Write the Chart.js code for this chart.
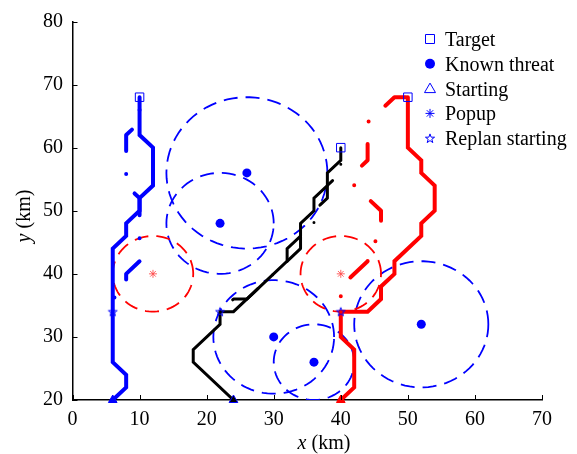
<!DOCTYPE html>
<html>
<head>
<meta charset="utf-8">
<script src="https://cdn.jsdelivr.net/npm/chart.js@4.4.1/dist/chart.umd.min.js"></script>
<style>
  html, body { margin: 0; padding: 0; background: #fff; }
  #wrap { width: 577px; height: 454px; }
</style>
</head>
<body>
<div id="wrap"><canvas id="paths" width="577" height="454"></canvas></div>
<script>
// axis ticks
const xTicks = [0, 10, 20, 30, 40, 50, 60, 70];
const yTicks = [20, 30, 40, 50, 60, 70, 80];

// paths (km): new = flown after replanning, old = original plan after the popup
const blueNewX = [6, 8, 8, 6, 6, 8, 8, 10, 10, 12, 12, 10, 10];
const blueNewY = [20, 22, 24, 26, 44, 46, 48, 50, 52, 54, 60, 62, 68];
const blueOldX = [6, 6, 8, 8, 10, 10, 8, 8, 10, 10];
const blueOldY = [34, 36, 38, 40, 42, 52, 54, 62, 64, 68];

const blackNewX = [24, 18, 18, 22, 22, 24, 32, 32, 34, 34, 36, 36, 38, 38, 40, 40];
const blackNewY = [20, 26, 28, 32, 34, 34, 42, 44, 46, 48, 50, 52, 54, 56, 58, 60];
const blackOldX = [22, 24, 26, 32, 34, 34, 36, 36, 38, 38, 40, 40];
const blackOldY = [34, 36, 36, 42, 44, 46, 48, 50, 52, 54, 56, 60];

const redNewX = [40, 42, 42, 40, 40, 44, 46, 46, 48, 48, 52, 52, 54, 54, 52, 52, 50, 50];
const redNewY = [20, 22, 28, 30, 34, 34, 36, 38, 40, 42, 46, 48, 50, 54, 56, 58, 60, 68];
const redOldX = [40, 40, 44, 44, 46, 46, 44, 42, 42, 44, 44, 46, 48, 50];
const redOldY = [34, 38, 42, 44, 46, 50, 52, 54, 56, 58, 64, 66, 68, 68];

// threats: centre and radius (km)
const knownX = [26, 22, 30, 36, 52];
const knownY = [56, 48, 30, 26, 32];
const knownR = [12, 8, 9, 6, 10];
const popupX = [12, 40];
const popupY = [40, 40];
const popupR = [6, 6];

// markers
const targetX = [10, 40, 50];
const targetY = [68, 60, 68];
const startX = [6, 24, 40];
const startY = [20, 20, 20];
const replanX = [6, 22, 40];
const replanY = [34, 34, 34];

const legendLabels = ["Target", "Known threat", "Starting", "Popup", "Replan starting"];

const BLUE = "#0000ff";
const RED = "#ff0000";
const SERIF = '"Liberation Serif", "Times New Roman", serif';

function pts(xs, ys) {
  return xs.map((x, i) => ({ x: x, y: ys[i] }));
}

// outline of a threat circle from its centre and radius
function ring(cx, cy, r) {
  const out = [];
  for (let k = 0; k <= 90; k++) {
    const a = (k / 90) * Math.PI * 2;
    out.push({ x: cx + r * Math.cos(a), y: cy + r * Math.sin(a) });
  }
  return out;
}

function pentagram(ctx, cx, cy, R) {
  const r = R * 0.4;
  ctx.beginPath();
  for (let k = 0; k < 10; k++) {
    const rad = k % 2 === 0 ? R : r;
    const a = -Math.PI / 2 + (k * Math.PI) / 5;
    const px = cx + rad * Math.cos(a);
    const py = cy + rad * Math.sin(a);
    if (k === 0) ctx.moveTo(px, py);
    else ctx.lineTo(px, py);
  }
  ctx.closePath();
}

const starImg = document.createElement("canvas");
starImg.width = 12;
starImg.height = 12;
(function () {
  const c = starImg.getContext("2d");
  c.strokeStyle = BLUE;
  c.lineWidth = 1;
  pentagram(c, 6, 6.4, 4.6);
  c.stroke();
})();

function pathSet(xs, ys, color, width, order, dash, dashOffset) {
  return {
    data: pts(xs, ys),
    showLine: true,
    borderColor: color,
    borderWidth: width,
    borderDash: dash || [],
    borderDashOffset: dashOffset || 0,
    borderCapStyle: "round",
    borderJoinStyle: dash ? "round" : "miter",
    pointRadius: 0,
    pointHoverRadius: 0,
    tension: 0,
    order: order,
  };
}

const datasets = [];

knownX.forEach((cx, i) => {
  datasets.push({
    data: ring(cx, knownY[i], knownR[i]),
    showLine: true,
    borderColor: BLUE,
    borderWidth: 1.8,
    borderDash: [14, 8],
    pointRadius: 0,
    tension: 0,
    order: 20,
  });
});
popupX.forEach((cx, i) => {
  datasets.push({
    data: ring(cx, popupY[i], popupR[i]),
    showLine: true,
    borderColor: RED,
    borderWidth: 1.8,
    borderDash: [14, 8],
    pointRadius: 0,
    tension: 0,
    order: 19,
  });
});

datasets.push(pathSet(blueOldX, blueOldY, BLUE, 4, 12, [24, 23, 0, 23], 32));
datasets.push(pathSet(redOldX, redOldY, RED, 4, 12, [24, 23, 0, 23], 31.6));
datasets.push(pathSet(blackOldX, blackOldY, "#000", 3, 12, [30, 20, 0, 20], 52.7));
datasets.push(pathSet(blueNewX, blueNewY, BLUE, 4, 10));
datasets.push(pathSet(redNewX, redNewY, RED, 4, 10));
datasets.push(pathSet(blackNewX, blackNewY, "#000", 3, 10));

datasets.push({
  data: pts(knownX, knownY),
  pointStyle: "circle",
  pointRadius: 4.5,
  pointBackgroundColor: BLUE,
  pointBorderColor: BLUE,
  pointBorderWidth: 0,
  order: 5,
});
datasets.push({
  data: pts(popupX, popupY),
  pointStyle: "star",
  pointRadius: 4,
  pointBackgroundColor: "rgba(0,0,0,0)",
  pointBorderColor: "rgba(255,70,70,0.85)",
  pointBorderWidth: 1,
  order: 5,
});
datasets.push({
  data: pts(targetX, targetY),
  pointStyle: "rect",
  pointRadius: 6,
  pointBackgroundColor: "rgba(0,0,0,0)",
  pointBorderColor: BLUE,
  pointBorderWidth: 1,
  order: 4,
});
datasets.push({
  data: pts(startX, startY),
  pointStyle: "triangle",
  pointRadius: 5,
  pointBackgroundColor: [BLUE, "#000", RED],
  pointBorderColor: [BLUE, BLUE, RED],
  pointBorderWidth: 1,
  clip: false,
  order: 4,
});
datasets.push({
  data: pts(replanX, replanY),
  pointStyle: starImg,
  pointRadius: 5,
  order: 3,
});

const decorations = {
  id: "decorations",
  afterDraw(chart) {
    const { ctx, chartArea: a, scales } = chart;
    ctx.save();

    // inward ticks
    ctx.strokeStyle = "#000";
    ctx.lineWidth = 1;
    ctx.beginPath();
    xTicks.forEach((v) => {
      const px = Math.round(scales.x.getPixelForValue(v)) + 0.5;
      ctx.moveTo(px, a.bottom);
      ctx.lineTo(px, a.bottom - 5);
    });
    yTicks.forEach((v) => {
      const py = Math.round(scales.y.getPixelForValue(v)) + 0.5;
      ctx.moveTo(a.left, py);
      ctx.lineTo(a.left + 5, py);
    });
    ctx.stroke();

    // axis titles with italic variable
    ctx.fillStyle = "#000";
    ctx.textBaseline = "alphabetic";
    ctx.textAlign = "left";
    const italic = "italic 20px " + SERIF;
    const plain = "20px " + SERIF;
    function title(v, cx, cy, rot) {
      ctx.save();
      ctx.translate(cx, cy);
      ctx.rotate(rot);
      ctx.font = italic;
      const w1 = ctx.measureText(v).width;
      ctx.font = plain;
      const w2 = ctx.measureText(" (km)").width;
      const x0 = -(w1 + w2) / 2;
      ctx.font = italic;
      ctx.fillText(v, x0, 0);
      ctx.font = plain;
      ctx.fillText(" (km)", x0 + w1, 0);
      ctx.restore();
    }
    title("x", 324, 449, 0);
    title("y", 30, 216, -Math.PI / 2);

    // legend
    const lx = 430;
    legendLabels.forEach((label, i) => {
      const ly = 39 + i * 24.8;
      ctx.strokeStyle = BLUE;
      ctx.fillStyle = BLUE;
      ctx.lineWidth = 1;
      ctx.beginPath();
      if (i === 0) {
        ctx.rect(lx - 4.5, ly - 4.5, 9, 9);
        ctx.stroke();
      } else if (i === 1) {
        ctx.arc(lx, ly, 5, 0, Math.PI * 2);
        ctx.fill();
      } else if (i === 2) {
        ctx.moveTo(lx, ly - 5.5);
        ctx.lineTo(lx + 5.5, ly + 4);
        ctx.lineTo(lx - 5.5, ly + 4);
        ctx.closePath();
        ctx.stroke();
      } else if (i === 3) {
        for (let k = 0; k < 4; k++) {
          const ang = (k * Math.PI) / 4;
          ctx.moveTo(lx - 4.5 * Math.cos(ang), ly - 4.5 * Math.sin(ang));
          ctx.lineTo(lx + 4.5 * Math.cos(ang), ly + 4.5 * Math.sin(ang));
        }
        ctx.stroke();
      } else {
        pentagram(ctx, lx, ly + 0.5, 4.8);
        ctx.stroke();
      }
      ctx.fillStyle = "#000";
      ctx.font = plain;
      ctx.fillText(label, 445, ly + 7);
    });

    ctx.restore();
  },
};

Chart.defaults.font.family = SERIF;
Chart.defaults.font.size = 20;
Chart.defaults.color = "#000";

new Chart(document.getElementById("paths"), {
  type: "scatter",
  data: { datasets: datasets },
  options: {
    responsive: false,
    animation: false,
    devicePixelRatio: 1,
    events: [],
    layout: { padding: { left: 0, right: 35, top: 16, bottom: 0 } },
    plugins: { legend: { display: false }, tooltip: { enabled: false } },
    scales: {
      x: {
        type: "linear",
        min: 0,
        max: 70,
        afterBuildTicks: (s) => { s.ticks = xTicks.map((v) => ({ value: v })); },
        afterFit: (s) => { s.height = 54; },
        ticks: { padding: 8 },
        grid: { drawOnChartArea: false, drawTicks: false },
        border: { color: "#000", width: 1.5 },
      },
      y: {
        type: "linear",
        min: 20,
        max: 80,
        afterBuildTicks: (s) => { s.ticks = yTicks.map((v) => ({ value: v })); },
        afterFit: (s) => { s.width = 72.5; },
        ticks: { padding: 9.5 },
        grid: { drawOnChartArea: false, drawTicks: false },
        border: { color: "#000", width: 1.5 },
      },
    },
  },
  plugins: [decorations],
});
</script>
</body>
</html>
